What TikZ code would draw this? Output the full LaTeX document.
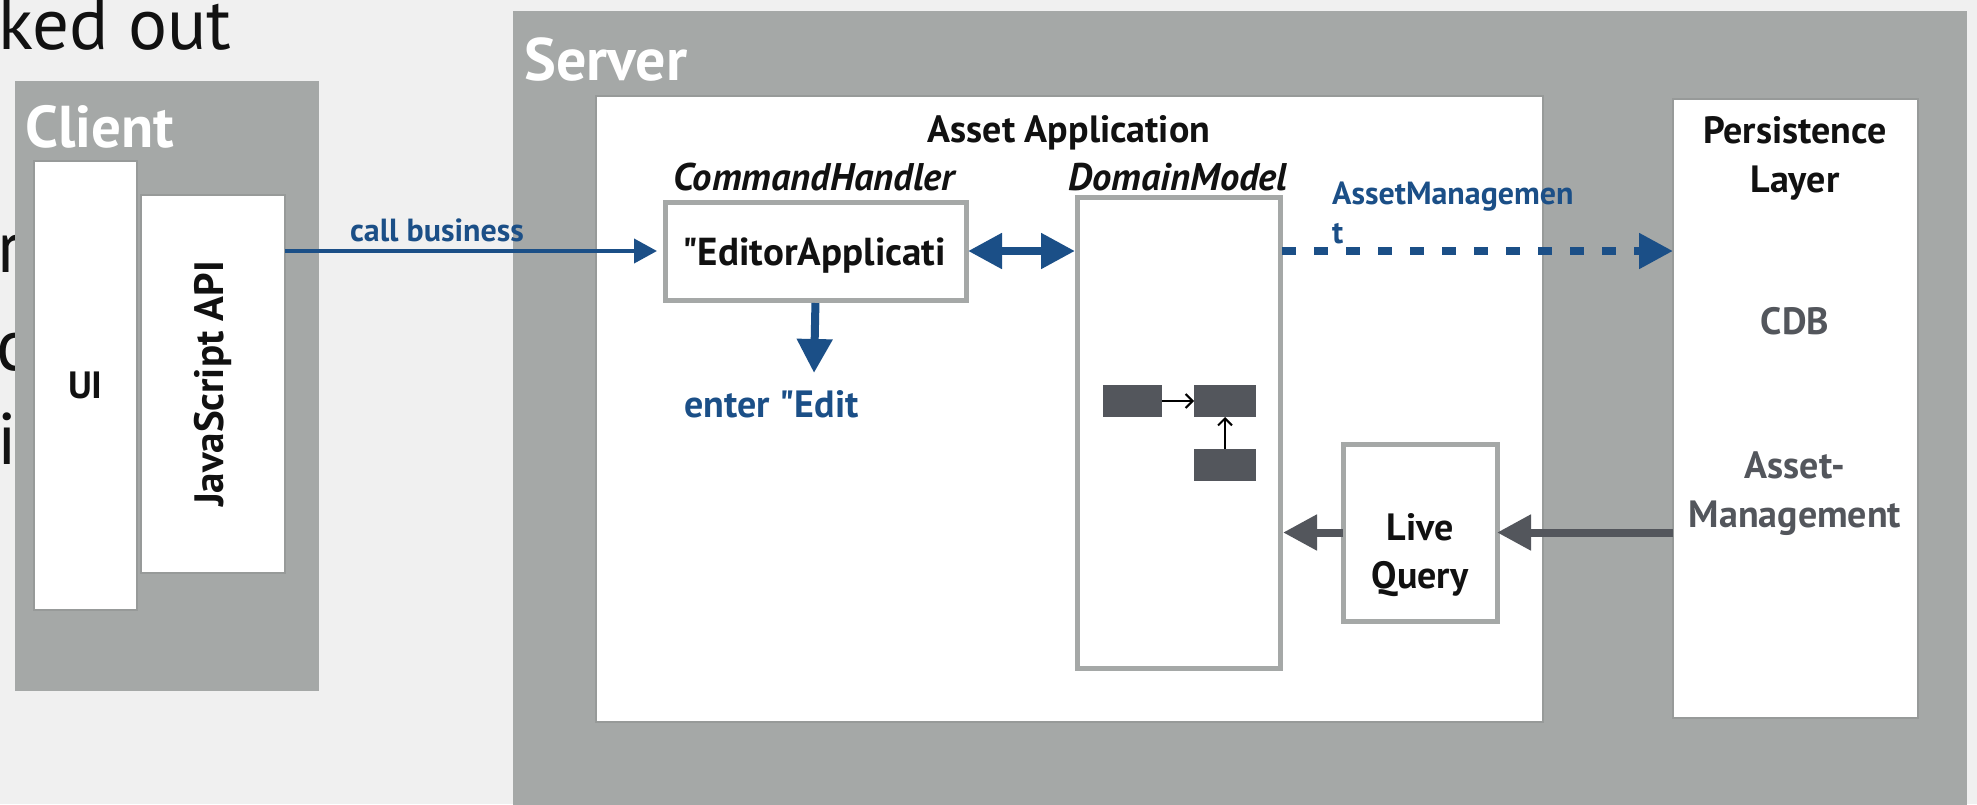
\documentclass[tikz,border=0pt]{standalone}
\usepackage{fontspec}
\setmainfont{PT Sans}[Ligatures=TeXOff]
\usetikzlibrary{arrows.meta}
\definecolor{bg}{HTML}{F0F0F0}
\definecolor{tier}{HTML}{A5A8A7}
\definecolor{blu}{HTML}{1B4F87}
\definecolor{dk}{HTML}{53565C}
\definecolor{edgec}{HTML}{979A99}
\definecolor{ink}{HTML}{111111}
\begin{document}
\begin{tikzpicture}[x=1pt,y=-1pt,
  box/.style={anchor=north west, inner sep=0pt, outer sep=0pt},
  tierbox/.style={box, fill=tier},
  whitebox/.style={box, fill=white, draw=edgec, line width=1.5pt},
  compbox/.style={box, fill=white, draw=tier, line width=5pt},
  minibox/.style={box, fill=dk, minimum width=#1, minimum height=32pt},
  lbl/.style={text=ink, font=\bfseries\fontsize{38}{44}\selectfont, align=center, inner sep=0pt},
  ilbl/.style={text=ink, font=\bfseries\itshape\fontsize{38.5}{44}\selectfont, inner sep=0pt},
  glbl/.style={text=dk, font=\bfseries\fontsize{38}{44}\selectfont, inner sep=0pt},
  blbl/.style={text=blu, font=\bfseries\fontsize{#1}{39}\selectfont, inner sep=0pt},
  tierlbl/.style={text=white, font=\bfseries\fontsize{#1}{66}\selectfont, inner sep=0pt, anchor=base west},
  bg text/.style={text=ink, font=\fontsize{73}{84}\selectfont, inner sep=0pt, anchor=base west},
  bigarrow/.style={line width=8pt, -{Triangle[length=34pt,width=34pt]}},
]
\useasboundingbox (0,0) rectangle (1977,804);
\clip (0,0) rectangle (1977,804);
\fill[bg] (0,0) rectangle (1977,804);

% slide text behind the diagram
\node[bg text] (title) at (-2,49) {ked out};
\node[bg text] (frag1) at (-3,272) {r};
\node[bg text] (frag2) at (-4,370) {c};
\node[bg text] (frag3) at (-3,464) {i};

% Client tier
\node[tierbox, minimum width=304pt, minimum height=610pt] (client) at (15,81) {};
\node[tierlbl=59] (clientlbl) at (25,147) {Client};
\node[whitebox, minimum width=103pt, minimum height=449pt] (ui) at (34,161) {};
\node[lbl] (uitext) at (ui.center) {UI};
\node[whitebox, minimum width=144pt, minimum height=378pt] (js) at (141,195) {};
\node[lbl, rotate=90, font=\bfseries\fontsize{41}{48}\selectfont] (jstext) at (js.center) {JavaScript API};

% Server tier
\node[tierbox, minimum width=1454pt, minimum height=820pt] (server) at (513,11) {};
\node[tierlbl=60] (serverlbl) at (524,80) {Server};

% Asset application
\node[whitebox, minimum width=947pt, minimum height=626pt] (app) at (596,96) {};
\node[lbl, anchor=base] (applbl) at (1069,142) {Asset Application};
\node[ilbl, anchor=base] (cmdlbl) at (814,190) {CommandHandler};
\node[ilbl, anchor=base] (domlbl) at (1178,190) {DomainModel};

\node[compbox, minimum width=301pt, minimum height=98pt] (editor) at (665,202) {};
\node[lbl, anchor=base, font=\bfseries\fontsize{39}{44}\selectfont] (editortext) at (814,265) {"EditorApplicati};

\node[compbox, minimum width=203pt, minimum height=471pt] (domain) at (1077,197) {};
\node[minibox=59pt] (dm1) at (1103,385) {};
\node[minibox=62pt] (dm2) at (1194,385) {};
\node[minibox=62pt] (dm3) at (1194,449) {};

\node[compbox, minimum width=154pt, minimum height=177pt] (live) at (1343,444) {};
\node[lbl, anchor=base] (livetext1) at (1420,540) {Live};
\node[lbl, anchor=base] (livetext2) at (1420,588) {Query};

% Persistence layer
\node[whitebox, minimum width=245pt, minimum height=619pt] (persist) at (1673,99) {};
\node[lbl, anchor=base] (perstext1) at (1795,143) {Persistence};
\node[lbl, anchor=base] (perstext2) at (1795,192) {Layer};
\node[glbl, anchor=base] (cdb) at (1795,334) {CDB};
\node[glbl, anchor=base] (am1) at (1795,478) {Asset-};
\node[glbl, anchor=base] (am2) at (1795,527) {Management};

% connectors
\draw[blu, line width=4pt, -{Triangle[length=23pt,width=24pt]}, shorten >=8pt]
  (editor.west -| js.east) -- (editor.west);
\node[blbl=32, anchor=base] (calllbl) at (437,241) {call business};

\coordinate (downtip) at (814,373);
\draw[blu, bigarrow, shorten <=3pt] (editor.south) -- (downtip);
\node[blbl=38, anchor=base west] (enterlbl) at (684,417) {enter "Edit};

\draw[blu, line width=8pt, {Triangle[length=34pt,width=34pt]}-{Triangle[length=34pt,width=34pt]}, shorten <=2pt, shorten >=2pt]
  (editor.east) -- (editor.east -| domain.west);

\draw[blu, bigarrow, dash pattern=on 14pt off 18pt, shorten <=2pt]
  (editor.east -| domain.east) -- (editor.east -| persist.west);
\node[text=blu, font=\fontsize{32}{39}\selectfont\bfseries, align=left, anchor=base west, inner sep=0pt] (amlbl) at (1332,243) {AssetManagemen\\t};

\draw[dk, bigarrow] (live.east -| persist.west) -- (live.east);
\draw[dk, bigarrow, shorten >=3pt] (live.west) -- (live.west -| domain.east);

\draw[black, line width=2pt, -{Straight Barb[length=7pt,width=14pt]}] (dm1.east) -- (dm2.west);
\draw[black, line width=2pt, -{Straight Barb[length=7pt,width=14pt]}] (dm3.north) -- (dm2.south);
\end{tikzpicture}
\end{document}
